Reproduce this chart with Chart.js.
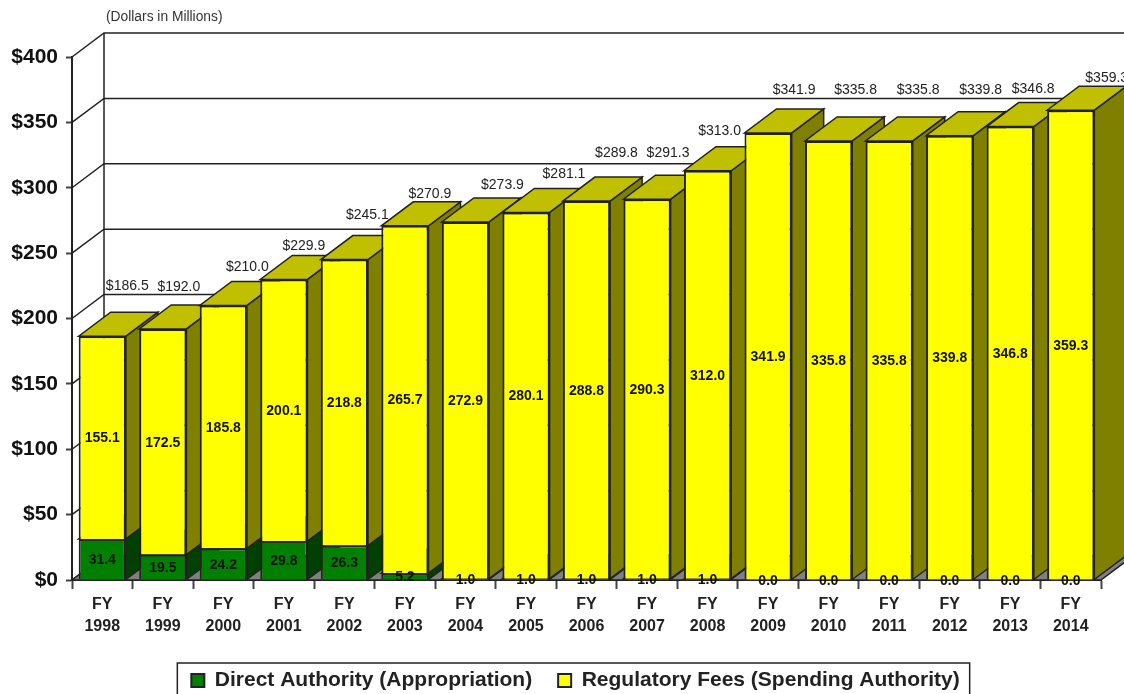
<!DOCTYPE html>
<html>
<head>
<meta charset="utf-8">
<title>Dollars in Millions</title>
<script src="https://cdn.jsdelivr.net/npm/chart.js@4/dist/chart.umd.min.js"></script>
<style>
  html, body { margin: 0; padding: 0; background: #fff; overflow: hidden; }
  canvas { display: block; }
</style>
</head>
<body>
<canvas id="chart" width="1124" height="694"></canvas>
<script>
const years = ['1998', '1999', '2000', '2001', '2002', '2003', '2004', '2005', '2006', '2007', '2008', '2009', '2010', '2011', '2012', '2013', '2014'];
const directAuthority = [31.4, 19.5, 24.2, 29.8, 26.3, 5.2, 1.0, 1.0, 1.0, 1.0, 1.0, 0.0, 0.0, 0.0, 0.0, 0.0, 0.0];
const regulatoryFees = [155.1, 172.5, 185.8, 200.1, 218.8, 265.7, 272.9, 280.1, 288.8, 290.3, 312.0, 341.9, 335.8, 335.8, 339.8, 346.8, 359.3];
const totals = [186.5, 192.0, 210.0, 229.9, 245.1, 270.9, 273.9, 281.1, 289.8, 291.3, 313.0, 341.9, 335.8, 335.8, 339.8, 346.8, 359.3];

// total labels were placed by hand in the original, offset from the bar top
const totalOffsetX = [25, 16, 24, 20, 23, 25, 37, 38, 30, 21, 12, 26, 27, 29, 31, 23, 36];
const totalOffsetY = [-50, -42, -38, -33, -44, -32, -37, -38, -48, -46, -40, -43, -51, -51, -46, -37, -32];

const depthX = 32;
const depthY = 24;
const legendShift = 25; // legend is centred on the page, not on the plot
const lineColor = '#222';
const faces = [
  { side: '#004000', top: '#006000' },
  { side: '#808000', top: '#c0c000' }
];

function poly(ctx, pts, fill) {
  ctx.beginPath();
  pts.forEach((p, i) => i ? ctx.lineTo(p[0], p[1]) : ctx.moveTo(p[0], p[1]));
  ctx.closePath();
  if (fill) {
    ctx.fillStyle = fill;
    ctx.fill();
  }
  ctx.stroke();
}

const wallsAndFaces = {
  id: 'wallsAndFaces',
  afterLayout(chart) {
    chart.legend.left += legendShift;
    chart.legend.right += legendShift;
  },
  beforeDatasetsDraw(chart) {
    const { ctx, chartArea: a, scales: { y } } = chart;
    ctx.save();
    ctx.strokeStyle = lineColor;
    ctx.lineWidth = 1.5;

    // back wall grid and the diagonals on the left wall
    y.ticks.forEach(t => {
      const py = y.getPixelForValue(t.value);
      ctx.beginPath();
      ctx.moveTo(a.left, py);
      ctx.lineTo(a.left + depthX, py - depthY);
      ctx.lineTo(a.right + depthX, py - depthY);
      ctx.stroke();
    });
    ctx.beginPath();
    ctx.moveTo(a.left + depthX, a.top - depthY);
    ctx.lineTo(a.left + depthX, a.bottom - depthY);
    ctx.stroke();

    // floor
    poly(ctx, [
      [a.left, a.bottom], [a.right, a.bottom],
      [a.right + depthX, a.bottom - depthY], [a.left + depthX, a.bottom - depthY]
    ], '#808080');

    // side and top of every bar, left to right
    const metas = chart.getSortedVisibleDatasetMetas();
    years.forEach((_, i) => {
      metas.forEach((meta, d) => {
        const el = meta.data[i];
        if (el.base - el.y < 0.5) return;
        const r = el.x + el.width / 2;
        const l = el.x - el.width / 2;
        poly(ctx, [
          [r, el.base], [r + depthX, el.base - depthY],
          [r + depthX, el.y - depthY], [r, el.y]
        ], faces[d].side);
        poly(ctx, [
          [l, el.y], [r, el.y],
          [r + depthX, el.y - depthY], [l + depthX, el.y - depthY]
        ], faces[d].top);
      });
    });
    ctx.restore();
  },
  afterDatasetsDraw(chart) {
    const { ctx } = chart;
    ctx.save();
    ctx.textAlign = 'center';
    ctx.textBaseline = 'middle';

    // values inside the bars
    ctx.font = 'bold 14px "Liberation Sans"';
    ctx.fillStyle = '#111';
    const metas = chart.getSortedVisibleDatasetMetas();
    metas.forEach((meta, d) => {
      const values = chart.data.datasets[d].data;
      meta.data.forEach((el, i) => {
        ctx.fillText(values[i].toFixed(1), el.x, (el.y + el.base) / 2 + 1);
      });
    });

    // totals above the bars
    ctx.font = '14px "Liberation Sans"';
    ctx.fillStyle = '#222';
    const topMeta = metas[metas.length - 1];
    totals.forEach((v, i) => {
      const el = topMeta.data[i];
      ctx.fillText('$' + v.toFixed(1), el.x + totalOffsetX[i], el.y + totalOffsetY[i]);
    });

    ctx.font = '13.8px "Liberation Sans"';
    ctx.fillStyle = '#333';
    ctx.textAlign = 'left';
    ctx.fillText('(Dollars in Millions)', 106, 17);
    ctx.restore();
  },
  afterDraw(chart) {
    // frame round the legend, its bottom edge runs off the page
    const { ctx, legend } = chart;
    const boxes = legend.legendHitBoxes;
    const last = boxes[boxes.length - 1];
    const left = boxes[0].left - 14;
    const right = last.left + last.width + 10;
    ctx.save();
    ctx.strokeStyle = lineColor;
    ctx.lineWidth = 1.5;
    ctx.strokeRect(left, 663, right - left, 40);
    ctx.restore();
  }
};

new Chart(document.getElementById('chart'), {
  type: 'bar',
  data: {
    labels: years.map(y => ['FY', y]),
    datasets: [
      {
        label: 'Direct Authority (Appropriation)',
        data: directAuthority,
        backgroundColor: '#008000',
        borderColor: lineColor,
        borderWidth: 2,
        barPercentage: 0.78,
        categoryPercentage: 1
      },
      {
        label: 'Regulatory Fees (Spending Authority)',
        data: regulatoryFees,
        backgroundColor: '#ffff00',
        borderColor: lineColor,
        borderWidth: 2,
        barPercentage: 0.78,
        categoryPercentage: 1
      }
    ]
  },
  options: {
    responsive: false,
    animation: false,
    layout: { padding: { left: 0, right: 23, top: 57, bottom: -7 } },
    plugins: {
      tooltip: { enabled: false },
      legend: {
        position: 'bottom',
        labels: {
          boxWidth: 13,
          boxHeight: 13,
          padding: 26,
          color: '#222',
          font: { family: '"Liberation Sans"', size: 21, weight: 'bold' }
        }
      }
    },
    scales: {
      x: {
        stacked: true,
        border: { color: lineColor, width: 2 },
        grid: { drawOnChartArea: false, offset: true, color: '#444', tickLength: 9, tickWidth: 2 },
        ticks: {
          padding: 5,
          color: '#222',
          maxRotation: 0,
          autoSkip: false,
          font: { family: '"Liberation Sans"', size: 16, weight: 'bold', lineHeight: 1.35 }
        },
        afterFit(scale) { scale.height = 64; }
      },
      y: {
        stacked: true,
        min: 0,
        max: 400,
        border: { color: lineColor, width: 2 },
        grid: { drawOnChartArea: false, color: '#444', tickLength: 6, tickWidth: 2 },
        ticks: {
          stepSize: 50,
          padding: 8,
          color: '#111',
          callback: v => '$' + v,
          font: { family: '"Liberation Sans"', size: 21, weight: 'bold' }
        },
        afterFit(scale) { scale.width = 72; }
      }
    }
  },
  plugins: [wallsAndFaces]
});
</script>
</body>
</html>
